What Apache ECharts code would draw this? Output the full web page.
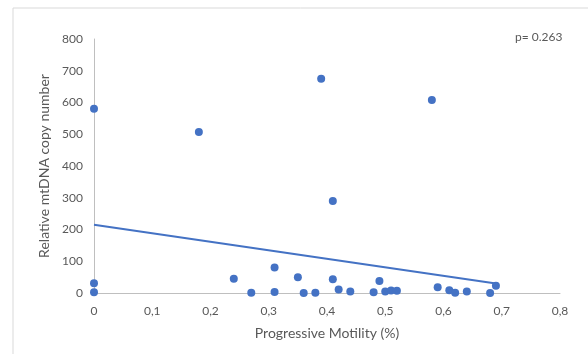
<!DOCTYPE html>
<html>
<head>
<meta charset="utf-8">
<script src="https://cdn.jsdelivr.net/npm/echarts@6/dist/echarts.min.js"></script>
<style>html,body{margin:0;padding:0;background:#fff}#c{width:588px;height:354px}</style>
</head>
<body>
<div id="c"></div>
<script>
const motility = [0, 0, 0, 0.18, 0.24, 0.27, 0.31, 0.31, 0.35, 0.36, 0.38, 0.39, 0.41, 0.41, 0.42, 0.44, 0.48, 0.49, 0.50, 0.51, 0.52, 0.58, 0.59, 0.61, 0.62, 0.64, 0.68, 0.69];
const copyNumber = [580, 31, 2, 507, 45, 1, 80, 3, 50, 0, 1, 675, 43, 290, 11, 5, 2, 38, 5, 8, 7, 608, 18, 9, 1, 5, 0, 23];
const trendX = [0, 0.69];
const trendY = [215, 30];
const xTicks = ['0', '0,1', '0,2', '0,3', '0,4', '0,5', '0,6', '0,7', '0,8'];
const pLabel = 'p= 0.263';

const font = 'Lato, "Open Sans", sans-serif';
const chart = echarts.init(document.getElementById('c'));
chart.setOption({
  animation: false,
  grid: { left: 94, right: 28, top: 39, bottom: 61 },
  graphic: [
    { type: 'line', shape: { x1: 13, y1: 8, x2: 13, y2: 354 }, style: { stroke: '#d9d9d9', lineWidth: 1 } },
    { type: 'line', shape: { x1: 13, y1: 8, x2: 588, y2: 8 }, style: { stroke: '#d9d9d9', lineWidth: 1 } },
    { type: 'text', left: 515, top: 31, style: { text: pLabel, fill: '#595959', font: '12px ' + font } }
  ],
  xAxis: {
    type: 'value', min: 0, max: 0.8, interval: 0.1,
    name: 'Progressive Motility (%)', nameLocation: 'middle', nameGap: 33,
    nameTextStyle: { color: '#595959', fontSize: 14, fontFamily: font },
    axisLine: { show: true, lineStyle: { color: '#bfbfbf' } },
    axisTick: { show: false },
    splitLine: { show: false },
    axisLabel: { color: '#595959', fontSize: 12, fontFamily: font, margin: 12,
      formatter: v => xTicks[Math.round(v * 10)] }
  },
  yAxis: {
    type: 'value', min: 0, max: 800, interval: 100,
    name: 'Relative mtDNA copy number', nameLocation: 'middle', nameGap: 36,
    nameTextStyle: { color: '#595959', fontSize: 14, fontFamily: font },
    axisLine: { show: true, lineStyle: { color: '#bfbfbf' } },
    axisTick: { show: false },
    splitLine: { show: false },
    axisLabel: { color: '#595959', fontSize: 12, fontFamily: font, margin: 11 }
  },
  series: [
    {
      type: 'line', data: trendX.map((x, i) => [x, trendY[i]]),
      showSymbol: false, symbol: 'none',
      lineStyle: { color: '#4472C4', width: 2 }, z: 2
    },
    {
      type: 'scatter', data: motility.map((x, i) => [x, copyNumber[i]]),
      symbolSize: 8, itemStyle: { color: '#4472C4', opacity: 1 }, z: 3
    }
  ]
});
</script>
</body>
</html>
